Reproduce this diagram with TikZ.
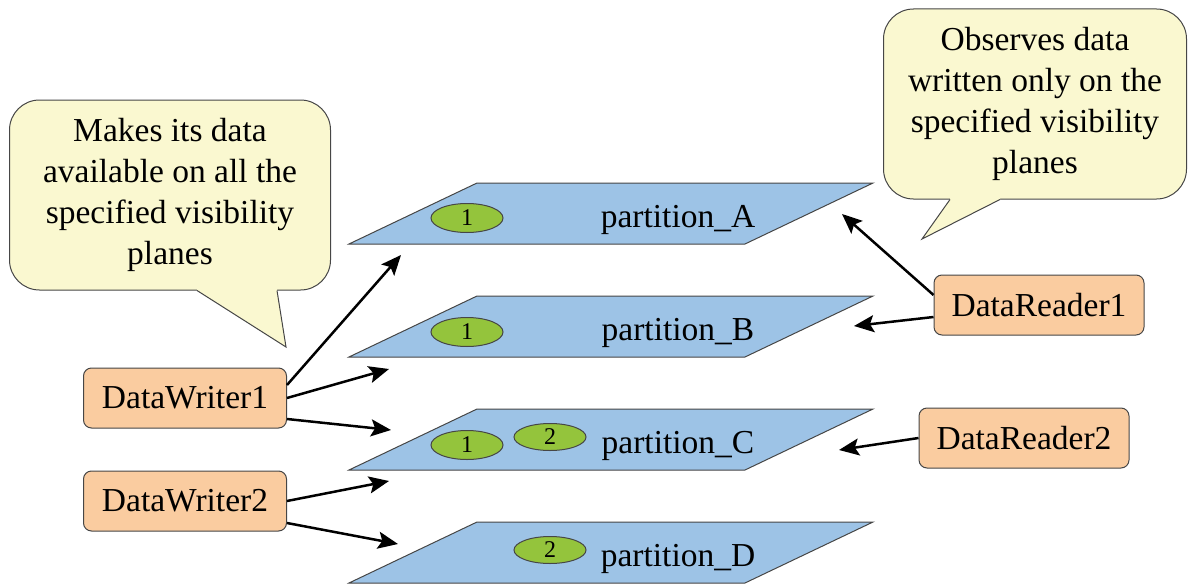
\documentclass[tikz,border=0pt]{standalone}
\usepackage{fontspec}
\setmainfont{Liberation Serif}
\usepackage{tikz}
\usetikzlibrary{calc,shapes.geometric,arrows.meta}
\usepackage{xcolor}
\definecolor{planeblue}{RGB}{157,195,230}
\definecolor{taggreen}{RGB}{148,196,60}
\definecolor{peach}{RGB}{250,204,160}
\definecolor{bubbleyellow}{RGB}{250,248,208}
\definecolor{edgegray}{RGB}{70,70,70}

\begin{document}
\begin{tikzpicture}[x=1pt, y=-1pt, font=\rmfamily\fontsize{33.5}{41}\selectfont]

            % Styly uzlů a šipek
            \tikzstyle{plane} = [draw=edgegray, line width=1pt, fill=planeblue]
            \tikzstyle{tag} = [ellipse, draw=edgegray, line width=1pt, fill=taggreen, minimum width=72pt, minimum height=29pt, inner sep=0pt, font=\rmfamily\fontsize{24}{26}\selectfont]
            \tikzstyle{box} = [rectangle, rounded corners=8pt, minimum width=203pt, minimum height=60pt, inner sep=0pt, text centered, draw=edgegray, line width=1pt, fill=peach]
            \tikzstyle{bubble} = [rectangle, rounded corners=30pt, minimum height=190pt, inner sep=0pt, align=center, draw=edgegray, line width=1pt, fill=bubbleyellow]
            \tikzstyle{arrow} = [line width=2.5pt, -{Stealth[length=20pt, width=17pt, inset=4pt]}]

            \useasboundingbox (0,0) rectangle (1188,586);

            % Roviny viditelnosti
            \foreach \p/\y in {A/183,B/296,C/409,D/522}{
                \draw[plane] (477,\y) -- ++(396,0) -- ++(-128,61) -- ++(-396,0) -- cycle;
                \node (part\p) at (678,\y+37) {partition\_\p};
            }

            % Značky v rovinách
            \node (tagA) [tag] at (467,218) {1};
            \node (tagB) [tag] at (467,332) {1};
            \node (tagCa) [tag] at (467,445) {1};
            \node (tagCb) [tag, minimum height=27pt] at (550,437) {2};
            \node (tagD) [tag, minimum height=27pt] at (550,550) {2};

            % Uzly diagramu
            \node (writer1) [box] at (185,398) {DataWriter1};
            \node (writer2) [box] at (185,501) {DataWriter2};
            \node (reader1) [box, minimum width=210pt] at (1039,305) {DataReader1};
            \node (reader2) [box, minimum width=210pt] at (1024,438) {DataReader2};

            % Konce šipek
            \coordinate (inA) at (401,255);
            \coordinate (inB) at (389,369);
            \coordinate (inC) at (391,430);
            \coordinate (inCb) at (389,481);
            \coordinate (inD) at (398,544);
            \coordinate (outA) at (842,214);
            \coordinate (outB) at (854,326);
            \coordinate (outC) at (839,450);

            % Šipky propojující uzly
            \draw [arrow] ([yshift=13pt]writer1.east) -- (inA);
            \draw [arrow] (writer1.east) -- (inB);
            \draw [arrow] ([yshift=-21pt]writer1.east) -- (inC);
            \draw [arrow] (writer2.east) -- (inCb);
            \draw [arrow] ([yshift=-22pt]writer2.east) -- (inD);
            \draw [arrow] ([yshift=10pt]reader1.west) -- (outA);
            \draw [arrow] ([yshift=-12pt]reader1.west) -- (outB);
            \draw [arrow] (reader2.west) -- (outC);

            % Bubliny s popisky
            \node (makes) [bubble, minimum width=321pt] at (170,195) {Makes its data\\available on all the\\specified visibility\\planes};
            \coordinate (makesL) at ($(makes.south)+(27,0)$);
            \coordinate (makesR) at ($(makes.south)+(107,0)$);
            \coordinate (makesTip) at (286,347);
            \fill[bubbleyellow] (makesL) -- (makesTip) -- (makesR) -- ++(0,-3) -- ($(makesL)+(0,-3)$) -- cycle;
            \draw[edgegray, line width=1pt, line join=miter] (makesL) -- (makesTip) -- (makesR);

            \node (observes) [bubble, minimum width=303pt] at (1035,104) {Observes data\\written only on the\\specified visibility\\planes};
            \coordinate (obsL) at ($(observes.south)+(-85,0)$);
            \coordinate (obsR) at ($(observes.south)+(-35,0)$);
            \coordinate (obsTip) at (922,239);
            \fill[bubbleyellow] (obsL) -- (obsTip) -- (obsR) -- ++(0,-3) -- ($(obsL)+(0,-3)$) -- cycle;
            \draw[edgegray, line width=1pt, line join=miter] (obsL) -- (obsTip) -- (obsR);

\end{tikzpicture}
\end{document}
